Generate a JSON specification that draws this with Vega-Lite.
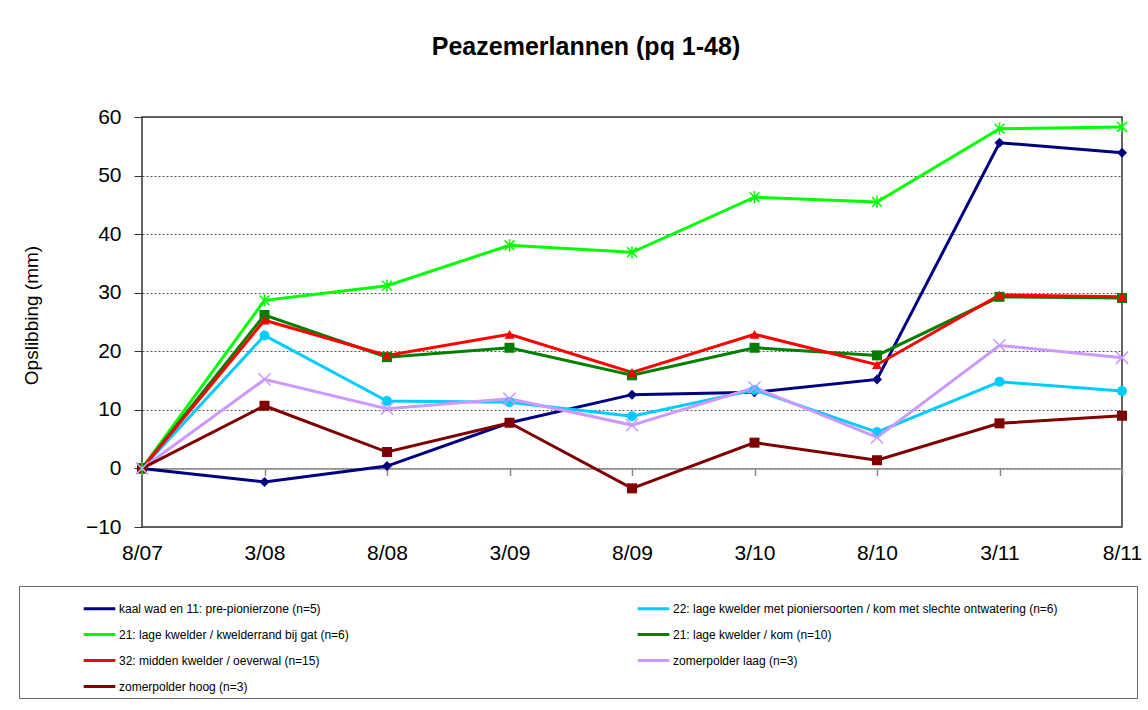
{
  "$schema": "https://vega.github.io/schema/vega-lite/v6.json",
  "autosize": "none",
  "width": 980,
  "height": 410,
  "padding": {"left": 142, "top": 117, "right": 26, "bottom": 183},
  "background": "white",
  "title": {"text": "Peazemerlannen  (pq 1-48)", "font": "Liberation Sans", "fontSize": 25, "fontWeight": "bold", "color": "black", "anchor": "middle", "dx": -46, "offset": 46},
  "config": {
    "font": "Liberation Sans",
    "view": {"stroke": "#333333", "strokeWidth": 1.5}
  },
  "data": {"values": [
    {"s": "kaal wad en 11: pre-pionierzone (n=5)", "d": "8/07", "v": 0},
    {"s": "kaal wad en 11: pre-pionierzone (n=5)", "d": "3/08", "v": -2.3},
    {"s": "kaal wad en 11: pre-pionierzone (n=5)", "d": "8/08", "v": 0.4},
    {"s": "kaal wad en 11: pre-pionierzone (n=5)", "d": "3/09", "v": 7.8},
    {"s": "kaal wad en 11: pre-pionierzone (n=5)", "d": "8/09", "v": 12.6},
    {"s": "kaal wad en 11: pre-pionierzone (n=5)", "d": "3/10", "v": 13.0},
    {"s": "kaal wad en 11: pre-pionierzone (n=5)", "d": "8/10", "v": 15.2},
    {"s": "kaal wad en 11: pre-pionierzone (n=5)", "d": "3/11", "v": 55.6},
    {"s": "kaal wad en 11: pre-pionierzone (n=5)", "d": "8/11", "v": 53.9},
    {"s": "22: lage kwelder met pioniersoorten / kom met slechte ontwatering (n=6)", "d": "8/07", "v": 0},
    {"s": "22: lage kwelder met pioniersoorten / kom met slechte ontwatering (n=6)", "d": "3/08", "v": 22.7},
    {"s": "22: lage kwelder met pioniersoorten / kom met slechte ontwatering (n=6)", "d": "8/08", "v": 11.5},
    {"s": "22: lage kwelder met pioniersoorten / kom met slechte ontwatering (n=6)", "d": "3/09", "v": 11.3},
    {"s": "22: lage kwelder met pioniersoorten / kom met slechte ontwatering (n=6)", "d": "8/09", "v": 8.9},
    {"s": "22: lage kwelder met pioniersoorten / kom met slechte ontwatering (n=6)", "d": "3/10", "v": 13.4},
    {"s": "22: lage kwelder met pioniersoorten / kom met slechte ontwatering (n=6)", "d": "8/10", "v": 6.2},
    {"s": "22: lage kwelder met pioniersoorten / kom met slechte ontwatering (n=6)", "d": "3/11", "v": 14.8},
    {"s": "22: lage kwelder met pioniersoorten / kom met slechte ontwatering (n=6)", "d": "8/11", "v": 13.2},
    {"s": "21: lage kwelder / kwelderrand bij gat (n=6)", "d": "8/07", "v": 0},
    {"s": "21: lage kwelder / kwelderrand bij gat (n=6)", "d": "3/08", "v": 28.7},
    {"s": "21: lage kwelder / kwelderrand bij gat (n=6)", "d": "8/08", "v": 31.2},
    {"s": "21: lage kwelder / kwelderrand bij gat (n=6)", "d": "3/09", "v": 38.1},
    {"s": "21: lage kwelder / kwelderrand bij gat (n=6)", "d": "8/09", "v": 36.9},
    {"s": "21: lage kwelder / kwelderrand bij gat (n=6)", "d": "3/10", "v": 46.3},
    {"s": "21: lage kwelder / kwelderrand bij gat (n=6)", "d": "8/10", "v": 45.5},
    {"s": "21: lage kwelder / kwelderrand bij gat (n=6)", "d": "3/11", "v": 58.0},
    {"s": "21: lage kwelder / kwelderrand bij gat (n=6)", "d": "8/11", "v": 58.3},
    {"s": "21: lage kwelder / kom (n=10)", "d": "8/07", "v": 0},
    {"s": "21: lage kwelder / kom (n=10)", "d": "3/08", "v": 26.2},
    {"s": "21: lage kwelder / kom (n=10)", "d": "8/08", "v": 19.0},
    {"s": "21: lage kwelder / kom (n=10)", "d": "3/09", "v": 20.6},
    {"s": "21: lage kwelder / kom (n=10)", "d": "8/09", "v": 15.9},
    {"s": "21: lage kwelder / kom (n=10)", "d": "3/10", "v": 20.6},
    {"s": "21: lage kwelder / kom (n=10)", "d": "8/10", "v": 19.3},
    {"s": "21: lage kwelder / kom (n=10)", "d": "3/11", "v": 29.3},
    {"s": "21: lage kwelder / kom (n=10)", "d": "8/11", "v": 29.1},
    {"s": "32: midden kwelder / oeverwal (n=15)", "d": "8/07", "v": 0},
    {"s": "32: midden kwelder / oeverwal (n=15)", "d": "3/08", "v": 25.3},
    {"s": "32: midden kwelder / oeverwal (n=15)", "d": "8/08", "v": 19.3},
    {"s": "32: midden kwelder / oeverwal (n=15)", "d": "3/09", "v": 22.9},
    {"s": "32: midden kwelder / oeverwal (n=15)", "d": "8/09", "v": 16.4},
    {"s": "32: midden kwelder / oeverwal (n=15)", "d": "3/10", "v": 22.9},
    {"s": "32: midden kwelder / oeverwal (n=15)", "d": "8/10", "v": 17.7},
    {"s": "32: midden kwelder / oeverwal (n=15)", "d": "3/11", "v": 29.6},
    {"s": "32: midden kwelder / oeverwal (n=15)", "d": "8/11", "v": 29.3},
    {"s": "zomerpolder laag (n=3)", "d": "8/07", "v": 0},
    {"s": "zomerpolder laag (n=3)", "d": "3/08", "v": 15.2},
    {"s": "zomerpolder laag (n=3)", "d": "8/08", "v": 10.2},
    {"s": "zomerpolder laag (n=3)", "d": "3/09", "v": 11.9},
    {"s": "zomerpolder laag (n=3)", "d": "8/09", "v": 7.4},
    {"s": "zomerpolder laag (n=3)", "d": "3/10", "v": 13.8},
    {"s": "zomerpolder laag (n=3)", "d": "8/10", "v": 5.3},
    {"s": "zomerpolder laag (n=3)", "d": "3/11", "v": 21.0},
    {"s": "zomerpolder laag (n=3)", "d": "8/11", "v": 18.9},
    {"s": "zomerpolder hoog (n=3)", "d": "8/07", "v": 0},
    {"s": "zomerpolder hoog (n=3)", "d": "3/08", "v": 10.7},
    {"s": "zomerpolder hoog (n=3)", "d": "8/08", "v": 2.8},
    {"s": "zomerpolder hoog (n=3)", "d": "3/09", "v": 7.8},
    {"s": "zomerpolder hoog (n=3)", "d": "8/09", "v": -3.4},
    {"s": "zomerpolder hoog (n=3)", "d": "3/10", "v": 4.4},
    {"s": "zomerpolder hoog (n=3)", "d": "8/10", "v": 1.4},
    {"s": "zomerpolder hoog (n=3)", "d": "3/11", "v": 7.7},
    {"s": "zomerpolder hoog (n=3)", "d": "8/11", "v": 9.0}
  ]},
  "resolve": {"axis": {"x": "independent"}},
  "layer": [
    {
      "mark": {"type": "line", "strokeWidth": 3},
      "encoding": {
        "x": {"field": "d", "type": "ordinal", "sort": null,
          "scale": {"type": "point", "padding": 0},
          "axis": {"orient": "bottom", "offset": -58.57, "labels": false, "title": null, "grid": false, "domainColor": "#888888", "domainWidth": 1.5, "tickColor": "#888888", "tickSize": 7, "tickWidth": 1.5}},
        "y": {"field": "v", "type": "quantitative",
          "scale": {"domain": [-10, 60], "nice": false, "zero": false},
          "axis": {"values": [-10, 0, 10, 20, 30, 40, 50, 60], "title": "Opslibbing (mm)", "titleFontSize": 19, "titleFontWeight": "normal", "titleColor": "black", "titlePadding": 44, "titleY": 198, "labelFontSize": 21, "labelColor": "black", "labelPadding": 13, "tickSize": 8, "tickColor": "#333333", "domain": false, "grid": true, "gridDash": [2, 2], "gridColor": "#555555", "gridWidth": 1}},
        "stroke": {"field": "s", "type": "nominal",
          "scale": {"domain": [
            "kaal wad en 11: pre-pionierzone (n=5)",
            "21: lage kwelder / kwelderrand bij gat (n=6)",
            "32: midden kwelder / oeverwal (n=15)",
            "zomerpolder hoog (n=3)",
            "22: lage kwelder met pioniersoorten / kom met slechte ontwatering (n=6)",
            "21: lage kwelder / kom (n=10)",
            "zomerpolder laag (n=3)"],
            "range": ["#000080", "#00FF00", "#FF0000", "#800000", "#00CCFF", "#008000", "#CC99FF"]},
          "legend": {"title": " ", "titleOrient": "right", "titlePadding": 74, "orient": "none", "legendX": -123, "legendY": 469, "columns": 2, "columnPadding": 229, "rowPadding": 2, "symbolType": "stroke", "symbolSize": 1000, "symbolStrokeWidth": 3, "symbolOffset": 58, "labelOffset": 2, "labelFontSize": 12, "labelColor": "black", "labelLimit": 600, "padding": 5, "strokeColor": "#666666"}}
      }
    },
    {
      "transform": [{"filter": {"field": "s", "oneOf": ["kaal wad en 11: pre-pionierzone (n=5)", "22: lage kwelder met pioniersoorten / kom met slechte ontwatering (n=6)", "21: lage kwelder / kom (n=10)", "32: midden kwelder / oeverwal (n=15)", "zomerpolder hoog (n=3)"]}}],
      "mark": {"type": "point", "filled": true, "opacity": 1},
      "encoding": {
        "x": {"field": "d", "type": "ordinal", "sort": null,
          "axis": {"orient": "bottom", "domain": false, "ticks": false, "labelPadding": 15, "labelFontSize": 21, "labelColor": "black", "labelAngle": 0, "title": null, "grid": false}},
        "y": {"field": "v", "type": "quantitative"},
        "color": {"field": "s", "type": "nominal", "legend": null,
          "scale": {"domain": [
            "kaal wad en 11: pre-pionierzone (n=5)",
            "22: lage kwelder met pioniersoorten / kom met slechte ontwatering (n=6)",
            "21: lage kwelder / kwelderrand bij gat (n=6)",
            "21: lage kwelder / kom (n=10)",
            "32: midden kwelder / oeverwal (n=15)",
            "zomerpolder laag (n=3)",
            "zomerpolder hoog (n=3)"],
            "range": ["#000080", "#00CCFF", "#00FF00", "#008000", "#FF0000", "#CC99FF", "#800000"]}},
        "shape": {"field": "s", "type": "nominal", "legend": null,
          "scale": {"domain": [
            "kaal wad en 11: pre-pionierzone (n=5)",
            "22: lage kwelder met pioniersoorten / kom met slechte ontwatering (n=6)",
            "21: lage kwelder / kwelderrand bij gat (n=6)",
            "21: lage kwelder / kom (n=10)",
            "32: midden kwelder / oeverwal (n=15)",
            "zomerpolder laag (n=3)",
            "zomerpolder hoog (n=3)"],
            "range": ["diamond", "circle", "M-0.8,-0.8L0.8,0.8M-0.8,0.8L0.8,-0.8M0,-1L0,1", "square", "triangle-up", "M-1,-1L1,1M-1,1L1,-1", "square"]}},
        "size": {"value": 100}
      }
    },
    {
      "transform": [{"filter": {"field": "s", "oneOf": ["21: lage kwelder / kwelderrand bij gat (n=6)", "zomerpolder laag (n=3)"]}}],
      "mark": {"type": "point", "filled": false, "opacity": 1, "strokeWidth": 1.5},
      "encoding": {
        "x": {"field": "d", "type": "ordinal", "sort": null, "axis": null},
        "y": {"field": "v", "type": "quantitative"},
        "color": {"field": "s", "type": "nominal", "legend": null},
        "shape": {"field": "s", "type": "nominal", "legend": null},
        "size": {"value": 150}
      }
    }
  ]
}
